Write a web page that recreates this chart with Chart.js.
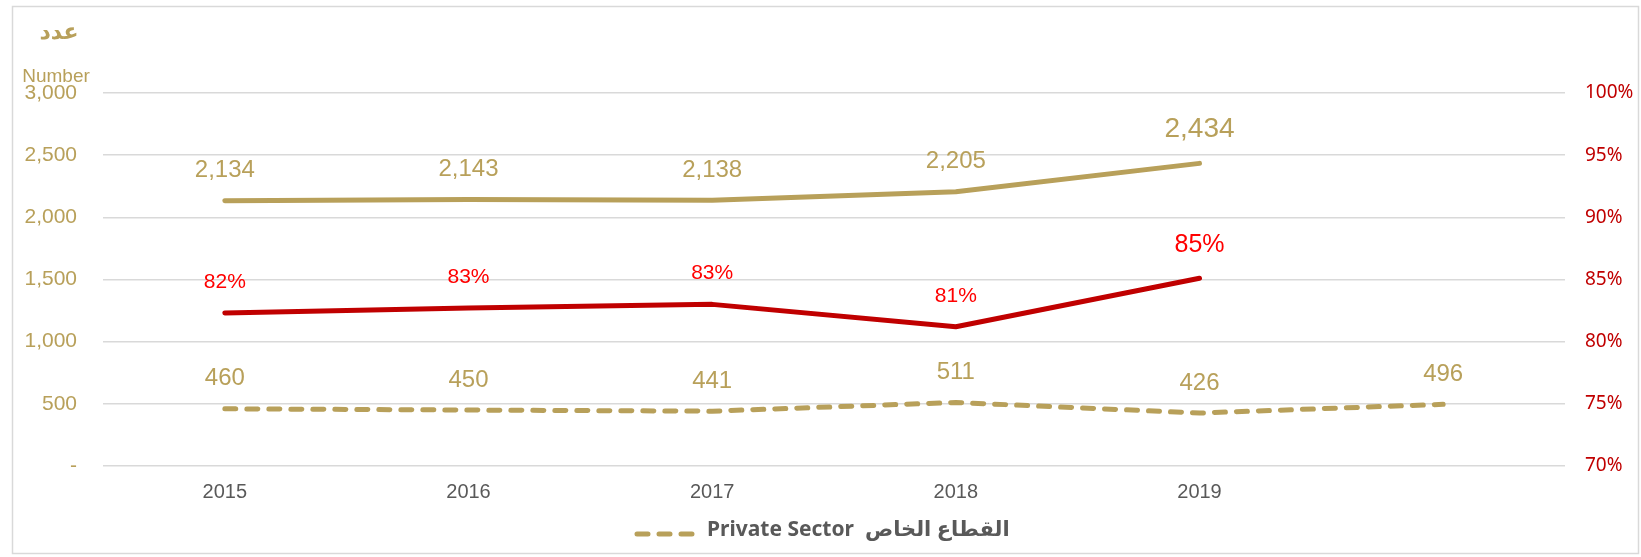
<!DOCTYPE html>
<html><head><meta charset="utf-8">
<script src="https://cdn.jsdelivr.net/npm/chart.js@4/dist/chart.umd.min.js"></script>
<style>html,body{margin:0;padding:0;background:#fff;}#wrap{width:1641px;height:557px;position:relative;}</style>
</head><body><div id="wrap"><canvas id="c" width="1641" height="557"></canvas></div>
<script>
const categories = ['2015', '2016', '2017', '2018', '2019', ''];
const totalEmployees = [2134, 2143, 2138, 2205, 2434, null];
const privateSector = [460, 450, 441, 511, 426, 496];
const shareRatio = [82.3, 82.7, 83.0, 81.2, 85.1, null];
const shareLabels = ['82%', '83%', '83%', '81%', '85%', ''];
const leftTicks = [0, 500, 1000, 1500, 2000, 2500, 3000];
const rightTicks = [70, 75, 80, 85, 90, 95, 100];
const legendText = 'Private Sector  القطاع الخاص';
const axisTitleAr = 'عدد';
const axisTitleEn = 'Number';

const GOLD = '#B8A05A';
const RED_LINE = '#C00000';
const RED_LABEL = '#FF0000';
const GRID = '#D9D9D9';
const GRAY = '#595959';
const FONT = '"Liberation Sans", Arial, sans-serif';

const fmtNum = v => v === 0 ? '-' : Number(v).toLocaleString('en-US');

const labelPlugin = {
  id: 'valueLabels',
  afterDatasetsDraw(chart) {
    const ctx = chart.ctx;
    ctx.save();
    ctx.textAlign = 'center';
    ctx.textBaseline = 'middle';
    chart.data.datasets.forEach((ds, di) => {
      const meta = chart.getDatasetMeta(di);
      meta.data.forEach((pt, i) => {
        const v = ds.data[i];
        if (v === null || v === undefined) return;
        let txt, size, off, color;
        if (ds.kind === 'total') {
          txt = fmtNum(v); color = GOLD;
          const last = i === 4; size = last ? 28 : 24; off = last ? 34 : 30;
        } else if (ds.kind === 'share') {
          txt = shareLabels[i]; color = RED_LABEL;
          const last = i === 4; size = last ? 25 : 21; off = last ? 33 : 31;
        } else {
          txt = fmtNum(v); color = GOLD; size = 24; off = 30;
        }
        ctx.font = size + 'px ' + FONT;
        ctx.fillStyle = color;
        ctx.fillText(txt, pt.x, pt.y - off);
      });
    });
    ctx.restore();
  },
  afterDraw(chart) {
    const ctx = chart.ctx;
    ctx.save();
    // outer border
    ctx.strokeStyle = GRID;
    ctx.lineWidth = 1.5;
    ctx.strokeRect(12.5, 6.5, 1626, 547);
    // axis titles
    ctx.fillStyle = GOLD;
    ctx.textAlign = 'center';
    ctx.textBaseline = 'middle';
    ctx.font = 'bold 22px "DejaVu Sans", sans-serif';
    ctx.fillText(axisTitleAr, 59, 33);
    ctx.font = '19px ' + FONT;
    ctx.fillText(axisTitleEn, 56, 77);
    // legend
    ctx.strokeStyle = GOLD;
    ctx.lineWidth = 5;
    ctx.lineCap = 'round';
    ctx.setLineDash([11, 11]);
    ctx.beginPath();
    ctx.moveTo(637, 534);
    ctx.lineTo(694, 534);
    ctx.stroke();
    ctx.setLineDash([]);
    ctx.fillStyle = GRAY;
    ctx.textAlign = 'left';
    ctx.font = 'bold 21px "Noto Sans", "DejaVu Sans", sans-serif';
    ctx.fillText(legendText, 707, 530);
    ctx.restore();
  }
};

new Chart(document.getElementById('c'), {
  type: 'line',
  data: {
    labels: categories,
    datasets: [
      { kind: 'private', label: 'Private Sector', data: privateSector, yAxisID: 'y',
        borderColor: GOLD, borderWidth: 5, borderDash: [11, 11], borderCapStyle: 'round',
        borderJoinStyle: 'round', pointRadius: 0, tension: 0, fill: false },
      { kind: 'total', label: 'Total', data: totalEmployees, yAxisID: 'y',
        borderColor: GOLD, borderWidth: 5, borderCapStyle: 'round', borderJoinStyle: 'round',
        pointRadius: 0, tension: 0, fill: false },
      { kind: 'share', label: 'Share', data: shareRatio, yAxisID: 'y1',
        borderColor: RED_LINE, borderWidth: 5, borderCapStyle: 'round', borderJoinStyle: 'round',
        pointRadius: 0, tension: 0, fill: false }
    ]
  },
  options: {
    responsive: false,
    animation: false,
    devicePixelRatio: 1,
    layout: { padding: { top: 93, left: 0, right: 0, bottom: 0 } },
    plugins: { legend: { display: false }, tooltip: { enabled: false } },
    scales: {
      x: {
        type: 'category', offset: true,
        grid: { display: false, drawTicks: false }, border: { display: false },
        ticks: { color: GRAY, font: { family: FONT, size: 20 }, padding: 14, maxRotation: 0, autoSkip: false },
        afterFit(s) { s.height = 91; }
      },
      y: {
        position: 'left', min: 0, max: 3000,
        afterBuildTicks(s) { s.ticks = leftTicks.map(v => ({ value: v })); },
        grid: { color: GRID, lineWidth: 1.5, drawTicks: false }, border: { display: false },
        ticks: { color: GOLD, font: { family: FONT, size: 21 }, padding: 26, callback: v => fmtNum(v) },
        afterFit(s) { s.width = 103; }
      },
      y1: {
        position: 'right', min: 70, max: 100,
        afterBuildTicks(s) { s.ticks = rightTicks.map(v => ({ value: v })); },
        grid: { display: false, drawTicks: false }, border: { display: false },
        ticks: { color: RED_LINE, font: { family: '"Noto Sans", sans-serif', size: 19 }, padding: 20, callback: v => v + '%' },
        afterFit(s) { s.width = 76; }
      }
    }
  },
  plugins: [labelPlugin]
});
</script></body></html>
